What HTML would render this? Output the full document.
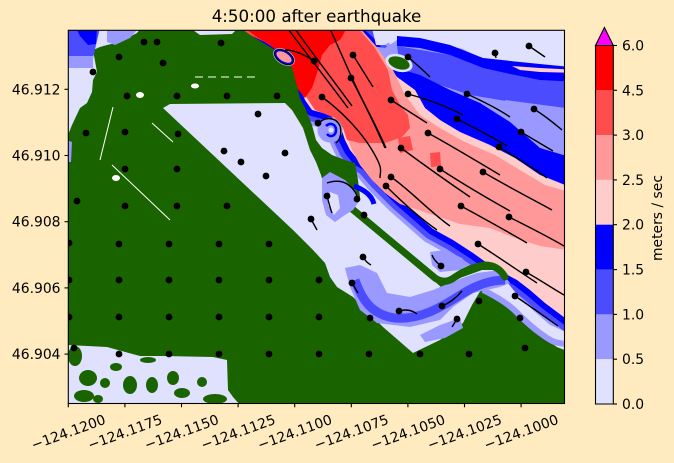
<!DOCTYPE html>
<html><head><meta charset="utf-8"><style>html,body{margin:0;padding:0;background:#ffebbf;}svg{display:block;}</style></head>
<body>
<svg width="674" height="463" xmlns="http://www.w3.org/2000/svg" font-family="'DejaVu Sans', 'Liberation Sans', sans-serif">
<rect width="674" height="463" fill="#ffebbf"/>
<defs>
<clipPath id="c"><rect x="68.3" y="30.3" width="496.2" height="373.2"/></clipPath>
<polygon id="pz" points="238,20 352,20 356,30 370,43 385,62 397,77 415,90 425,108 440,120 460,132 490,145 515,158 540,175 565,185 580,185 580,330 565,318 545,303 530,290 517,280 500,271 487,263 473,253 453,240 433,229 400,200 380,180 367,165 358,160 350,150 345,140 340,125 330,115 312,110 305,100 298,82 293,66 280,50 265,42 250,34"/>
</defs>
<g clip-path="url(#c)">
<rect x="60" y="20" width="520" height="400" fill="#e0e0ff"/>
<use href="#pz" fill="none" stroke="#9999ff" stroke-width="30" stroke-linejoin="round"/>
<use href="#pz" fill="none" stroke="#4c4cff" stroke-width="22" stroke-linejoin="round"/>
<use href="#pz" fill="none" stroke="#0000ff" stroke-width="12" stroke-linejoin="round"/>
<polygon fill="#e0e0ff" points="372,28 580,28 580,60 520,60 485,56 463,46 430,38 397,36 385,45 376,45"/>
<polygon fill="#9999ff" points="372,46 385,48 397,40 430,41 463,49 485,60 520,63 565,66 580,66 580,185 565,185 540,175 515,158 490,145 460,132 440,120 425,108 415,90 397,77 385,62"/>
<polygon fill="#4c4cff" points="397,46 450,55 483,68 520,76 580,82 580,110 530,105 500,100 470,95 440,85 415,75 400,68"/>
<polygon fill="#9999ff" points="505,100 580,110 580,155 540,145 515,125"/>
<polygon fill="#0000ff" points="390,66 420,75 450,90 480,103 510,122 540,148 580,160 580,186 565,185 540,175 515,158 490,145 460,132 440,120 425,108 415,90 397,77"/>
<polygon fill="#0000ff" points="397,36 420,38 450,45 483,58 520,62 580,68 580,82 540,80 510,74 483,68 450,55 420,48 397,46"/>
<polygon fill="#ffcccc" points="512,66 540,68 580,70 580,73 540,72 520,70"/>
<use href="#pz" fill="#ffcccc" stroke="none"/>
<polygon fill="#ff9999" points="360,28 375,45 392,68 405,95 420,115 440,128 465,142 495,155 520,170 545,185 580,195 580,252 540,246 515,238 490,228 460,224 433,215 400,204 385,193 372,180 360,165 352,150 348,140"/>
<polygon fill="#ff4c4c" points="240,28 358,28 375,48 388,70 392,90 400,105 408,115 410,128 402,137 385,143 360,143 347,140 343,128 335,118 315,110 305,95 298,80 292,66 280,52 265,42 250,35"/>
<polygon fill="#ff4c4c" points="398,138 410,136 413,150 400,153"/>
<polygon fill="#ff4c4c" points="430,153 440,152 441,166 431,167"/>
<polygon fill="#ff0000" points="245,28 347,28 340,40 330,45 322,55 318,70 312,88 305,98 297,88 292,72 285,58 270,45 255,36"/>
<polygon fill="#1a6400" points="60,410 60,135 68,135 72,125 80,108 87,103 92,92 93,80 97,72 93,50 100,47 107,45 120,42 137,33 141,28 240,28 252,36 265,44 275,50 285,60 292,67 296,82 300,98 306,110 312,125 316,140 322,148 332,155 345,160 355,163 358,180 360,197 350,193 333,192 420,265 443,283 460,270 482,263 497,266 506,277 512,300 520,317 530,328 543,337 557,347 565,350 580,350 580,410"/>
<polygon fill="#e0e0ff" points="190,28 238,28 232,34 200,35"/>
<polygon fill="#e0e0ff" points="163,108 170,104 285,103 292,110 303,128 310,150 316,162 321,175 325,190 336,198 380,235 420,268 442,288 460,278 482,270 500,270 507,282 520,298 535,312 550,325 580,338 580,350 565,350 557,347 543,337 530,328 520,317 510,305 497,297 482,288 472,305 463,323 440,340 413,353 383,327 353,297 337,287 330,277 325,263 313,250 293,230"/>
<path d="M483,290 C495,296 505,302 512,308 S525,322 540,333 S555,342 565,344" fill="none" stroke="#9999ff" stroke-width="6"/>
<polygon fill="#9999ff" points="345,268 360,265 377,273 387,293 410,297 433,290 457,280 477,273 500,270 510,283 500,287 473,293 453,307 440,320 410,327 377,323 360,310 350,287"/>
<path d="M355,280 C362,300 372,315 395,318 C420,320 440,308 462,294 C478,284 492,280 505,280" fill="none" stroke="#4c4cff" stroke-width="9"/>
<polygon fill="#9999ff" points="430,252 445,250 462,258 468,265 460,270 440,272 432,265"/>
<polygon fill="#9999ff" points="420,335 440,325 460,318 463,328 445,338 425,342"/>
<path d="M333,193 L435,278 Q445,285 455,277 Q470,267 485,265 Q498,265 505,277" fill="none" stroke="#1a6400" stroke-width="7" stroke-linecap="round"/>
<polygon fill="#9999ff" points="322,178 330,172 345,180 355,190 360,200 353,210 345,215 335,222 326,215 322,200"/>
<polygon fill="#e0e0ff" points="330,192 338,195 340,208 334,215 328,205"/>
<path d="M354,186 C365,190 372,196 374,204" fill="none" stroke="#0000ff" stroke-width="5"/>
<g transform="rotate(32 284 57)">
<ellipse cx="284" cy="57" rx="12" ry="7.5" fill="#9999ff"/>
<ellipse cx="284" cy="57" rx="10.5" ry="6" fill="#0000ff"/>
<ellipse cx="284" cy="57" rx="8.5" ry="4.3" fill="#ff9999"/>
<ellipse cx="284" cy="57" rx="10.5" ry="6" fill="none" stroke="#000" stroke-width="1.2"/>
</g>
<circle cx="330" cy="130" r="12.5" fill="#9999ff"/>
<path d="M326,126 C330,122 336,124 336,130 C336,136 330,138 327,134" fill="none" stroke="#0000ff" stroke-width="2.5"/>
<circle cx="331" cy="130" r="2.5" fill="#e0e0ff"/>
<ellipse cx="399" cy="63" rx="14" ry="8.5" fill="#e0e0ff" transform="rotate(18 399 63)"/>
<ellipse cx="399" cy="63" rx="11" ry="6" fill="#1a6400" transform="rotate(18 399 63)"/>
<polygon fill="#4c4cff" points="60,28 100,28 96,45 93,58 80,62 68,64 60,64"/>
<polygon fill="#0000ff" points="76,28 97,28 96,44 88,45 80,36"/>
<polygon fill="#9999ff" points="60,56 93,56 93,68 60,68"/>
<polygon fill="#9999ff" points="107,30 137,30 130,38 115,45 107,42"/>
<polygon fill="#9999ff" points="66,140 72,142 71,162 66,162"/>
<g stroke="#fff" stroke-width="1" fill="none">
<path d="M195,77 L260,77" stroke-dasharray="8 5"/>
<path d="M152,123 L173,142"/>
<path d="M112,165 L170,220"/>
<path d="M113,107 L100,160"/>
</g>
<g fill="#fff">
<ellipse cx="140" cy="95" rx="4" ry="3"/>
<ellipse cx="195" cy="86" rx="4" ry="2.5"/>
<ellipse cx="116" cy="178" rx="4" ry="3"/>
</g>
<polygon fill="#e0e0ff" points="60,345 68,345 107,347 140,356 163,356 213,357 227,360 228,390 233,397 240,405 60,405"/>
<g fill="#1a6400">
<ellipse cx="75" cy="356" rx="7" ry="10"/>
<ellipse cx="88" cy="378" rx="9" ry="8"/>
<ellipse cx="84" cy="396" rx="10" ry="6"/>
<ellipse cx="116" cy="367" rx="6" ry="4"/>
<ellipse cx="105" cy="383" rx="5" ry="5"/>
<ellipse cx="130" cy="385" rx="7" ry="9"/>
<ellipse cx="152" cy="385" rx="6" ry="8"/>
<ellipse cx="173" cy="378" rx="6" ry="7"/>
<ellipse cx="182" cy="393" rx="8" ry="5"/>
<ellipse cx="202" cy="382" rx="5" ry="5"/>
<ellipse cx="215" cy="399" rx="12" ry="5"/>
<ellipse cx="148" cy="360" rx="8" ry="3"/>
<ellipse cx="98" cy="399" rx="5" ry="4"/>
</g>
<g fill="none" stroke="#000" stroke-width="1.4">
<path d="M288,29 C300,45 318,68 348,108"/>
<path d="M295,29 C310,50 330,76 352,106"/>
<path d="M330,29 C340,50 352,80 365,105 S380,135 386,148"/>
<path d="M322,97 C340,110 360,130 372,150 S380,170 380,178"/>
<path d="M353,55 L373,87"/>
<path d="M351,78 C360,95 375,125 385,148"/>
<path d="M408,57 C415,63 423,70 430,77"/>
<path d="M391,100 L427,123"/>
<path d="M408,94 C430,100 450,108 463,115"/>
<path d="M467,94 C480,100 497,108 510,117"/>
<path d="M495,53 L496,58"/>
<path d="M529,46 L545,57"/>
<path d="M534,109 C545,116 555,124 562,130"/>
<path d="M457,119 C475,128 492,137 507,146"/>
<path d="M521,132 L553,151"/>
<path d="M428,133 C450,145 475,160 500,175"/>
<path d="M499,147 C515,157 532,167 547,178"/>
<path d="M401,148 C420,162 445,180 470,197"/>
<path d="M440,169 C460,182 485,197 510,211"/>
<path d="M483,172 C505,185 530,198 552,210"/>
<path d="M461,206 C483,218 505,230 527,243"/>
<path d="M509,217 C527,226 547,236 564,246"/>
<path d="M478,244 C497,256 517,270 537,283"/>
<path d="M526,272 C540,280 552,288 564,295"/>
<path d="M515,296 C530,306 545,317 558,326"/>
<path d="M391,177 C410,190 430,212 450,226"/>
<path d="M386,186 C400,200 420,218 437,230"/>
<path d="M327,196 C329,203 330,208 332,213"/>
<path d="M327,183 C335,180 345,180 352,188 S357,198 357,199"/>
<path d="M364,215 L365,219"/>
<path d="M311,219 L317,230"/>
<path d="M363,257 C366,262 369,264 371,265"/>
<path d="M352,283 L358,293"/>
<path d="M399,311 C406,309 412,310 417,314"/>
<path d="M442,306 C450,303 456,298 462,291"/>
<path d="M457,319 L452,327"/>
<path d="M441,266 C436,262 433,258 432,255"/>
<path d="M318,124 C325,116 336,117 340,126 C342,133 340,140 336,143"/>
<path d="M314,61 C305,55 295,50 285,50"/>
</g>
<g fill="#000">
<circle cx="144" cy="42" r="3.4"/><circle cx="157" cy="42" r="3.4"/><circle cx="221" cy="43" r="3.4"/><circle cx="119" cy="57" r="3.4"/><circle cx="163" cy="63" r="3.4"/><circle cx="93" cy="72" r="3.4"/>
<circle cx="127" cy="96" r="3.4"/><circle cx="177" cy="96" r="3.4"/><circle cx="227" cy="96" r="3.4"/><circle cx="277" cy="96" r="3.4"/><circle cx="258" cy="114" r="3.4"/>
<circle cx="86" cy="133" r="3.4"/><circle cx="125" cy="132" r="3.4"/><circle cx="178" cy="134" r="3.4"/><circle cx="224" cy="151" r="3.4"/><circle cx="285" cy="153" r="3.4"/><circle cx="241" cy="162" r="3.4"/><circle cx="266" cy="176" r="3.4"/>
<circle cx="125" cy="169" r="3.4"/><circle cx="177" cy="169" r="3.4"/><circle cx="77" cy="201" r="3.4"/><circle cx="125" cy="206" r="3.4"/><circle cx="177" cy="206" r="3.4"/><circle cx="227" cy="206" r="3.4"/>
<circle cx="69" cy="243" r="3.4"/><circle cx="119" cy="244" r="3.4"/><circle cx="169" cy="244" r="3.4"/><circle cx="219" cy="244" r="3.4"/><circle cx="269" cy="244" r="3.4"/>
<circle cx="69" cy="280" r="3.4"/><circle cx="119" cy="280" r="3.4"/><circle cx="169" cy="280" r="3.4"/><circle cx="219" cy="280" r="3.4"/><circle cx="269" cy="280" r="3.4"/><circle cx="319" cy="280" r="3.4"/>
<circle cx="69" cy="317" r="3.4"/><circle cx="119" cy="317" r="3.4"/><circle cx="169" cy="317" r="3.4"/><circle cx="219" cy="317" r="3.4"/><circle cx="269" cy="317" r="3.4"/><circle cx="319" cy="317" r="3.4"/>
<circle cx="74" cy="348" r="3.4"/><circle cx="119" cy="354" r="3.4"/><circle cx="169" cy="354" r="3.4"/><circle cx="219" cy="354" r="3.4"/><circle cx="269" cy="354" r="3.4"/><circle cx="319" cy="354" r="3.4"/><circle cx="369" cy="354" r="3.4"/><circle cx="420" cy="354" r="3.4"/><circle cx="469" cy="354" r="3.4"/><circle cx="525" cy="348" r="3.4"/>
<circle cx="520" cy="318" r="3.4"/><circle cx="479" cy="301" r="3.4"/><circle cx="370" cy="318" r="3.4"/>
<circle cx="314" cy="61" r="3.4"/><circle cx="322" cy="97" r="3.4"/><circle cx="318" cy="123" r="3.4"/><circle cx="353" cy="55" r="3.4"/><circle cx="351" cy="78" r="3.4"/><circle cx="408" cy="57" r="3.4"/>
<circle cx="391" cy="100" r="3.4"/><circle cx="408" cy="94" r="3.4"/><circle cx="467" cy="94" r="3.4"/><circle cx="495" cy="53" r="3.4"/><circle cx="529" cy="46" r="3.4"/><circle cx="534" cy="109" r="3.4"/>
<circle cx="457" cy="119" r="3.4"/><circle cx="521" cy="132" r="3.4"/><circle cx="428" cy="133" r="3.4"/><circle cx="499" cy="147" r="3.4"/><circle cx="401" cy="148" r="3.4"/><circle cx="440" cy="169" r="3.4"/>
<circle cx="483" cy="172" r="3.4"/><circle cx="391" cy="177" r="3.4"/><circle cx="386" cy="186" r="3.4"/><circle cx="461" cy="206" r="3.4"/><circle cx="509" cy="217" r="3.4"/><circle cx="478" cy="244" r="3.4"/>
<circle cx="526" cy="272" r="3.4"/><circle cx="515" cy="296" r="3.4"/><circle cx="357" cy="199" r="3.4"/><circle cx="364" cy="215" r="3.4"/><circle cx="327" cy="196" r="3.4"/><circle cx="311" cy="219" r="3.4"/>
<circle cx="363" cy="257" r="3.4"/><circle cx="352" cy="283" r="3.4"/><circle cx="399" cy="311" r="3.4"/><circle cx="442" cy="306" r="3.4"/><circle cx="457" cy="319" r="3.4"/><circle cx="441" cy="266" r="3.4"/>
</g>
</g>
<rect x="68.3" y="30.3" width="496.2" height="373.2" fill="none" stroke="#000" stroke-width="1.1"/>
<g stroke="#000" stroke-width="1.1">
<line x1="64.5" y1="89.3" x2="68.3" y2="89.3"/><line x1="64.5" y1="155.5" x2="68.3" y2="155.5"/><line x1="64.5" y1="221.7" x2="68.3" y2="221.7"/><line x1="64.5" y1="287.9" x2="68.3" y2="287.9"/><line x1="64.5" y1="354.1" x2="68.3" y2="354.1"/>
<line x1="68.3" y1="403.5" x2="68.3" y2="407.3"/><line x1="124.9" y1="403.5" x2="124.9" y2="407.3"/><line x1="181.5" y1="403.5" x2="181.5" y2="407.3"/><line x1="238.1" y1="403.5" x2="238.1" y2="407.3"/><line x1="294.7" y1="403.5" x2="294.7" y2="407.3"/><line x1="351.3" y1="403.5" x2="351.3" y2="407.3"/><line x1="407.9" y1="403.5" x2="407.9" y2="407.3"/><line x1="464.5" y1="403.5" x2="464.5" y2="407.3"/><line x1="521.1" y1="403.5" x2="521.1" y2="407.3"/>
</g>
<g font-size="13.9" fill="#000" text-anchor="end">
<text x="60.5" y="94.3">46.912</text><text x="60.5" y="160.5">46.910</text><text x="60.5" y="226.7">46.908</text><text x="60.5" y="292.9">46.906</text><text x="60.5" y="359.1">46.904</text>
</g>
<g font-size="13.9" fill="#000" text-anchor="middle">
<text x="68.3" y="437" transform="rotate(-20 68.3 432)">−124.1200</text>
<text x="124.9" y="437" transform="rotate(-20 124.9 432)">−124.1175</text>
<text x="181.5" y="437" transform="rotate(-20 181.5 432)">−124.1150</text>
<text x="238.1" y="437" transform="rotate(-20 238.1 432)">−124.1125</text>
<text x="294.7" y="437" transform="rotate(-20 294.7 432)">−124.1100</text>
<text x="351.3" y="437" transform="rotate(-20 351.3 432)">−124.1075</text>
<text x="407.9" y="437" transform="rotate(-20 407.9 432)">−124.1050</text>
<text x="464.5" y="437" transform="rotate(-20 464.5 432)">−124.1025</text>
<text x="521.1" y="437" transform="rotate(-20 521.1 432)">−124.1000</text>
</g>
<text x="316.5" y="22" font-size="16.7" text-anchor="middle" fill="#000">4:50:00 after earthquake</text>
<rect x="595.5" y="45.5" width="17.8" height="44.8" fill="#ff0000"/>
<rect x="595.5" y="90.3" width="17.8" height="44.8" fill="#ff4c4c"/>
<rect x="595.5" y="135.1" width="17.8" height="44.8" fill="#ff9999"/>
<rect x="595.5" y="179.9" width="17.8" height="44.8" fill="#ffcccc"/>
<rect x="595.5" y="224.7" width="17.8" height="44.9" fill="#0000ff"/>
<rect x="595.5" y="269.6" width="17.8" height="44.8" fill="#4c4cff"/>
<rect x="595.5" y="314.4" width="17.8" height="44.8" fill="#9999ff"/>
<rect x="595.5" y="359.2" width="17.8" height="44.8" fill="#e0e0ff"/>
<path d="M595.5,45.5 L604.4,27.5 L613.3,45.5 Z" fill="#ff00ff" stroke="#000" stroke-width="1.1"/>
<path d="M595.5,45.5 L595.5,404 L613.3,404 L613.3,45.5" fill="none" stroke="#000" stroke-width="1.1"/>
<g stroke="#000" stroke-width="1.1">
<line x1="613.3" y1="45.5" x2="617" y2="45.5"/><line x1="613.3" y1="90.3" x2="617" y2="90.3"/><line x1="613.3" y1="135.1" x2="617" y2="135.1"/><line x1="613.3" y1="179.9" x2="617" y2="179.9"/><line x1="613.3" y1="224.7" x2="617" y2="224.7"/><line x1="613.3" y1="269.6" x2="617" y2="269.6"/><line x1="613.3" y1="314.4" x2="617" y2="314.4"/><line x1="613.3" y1="359.2" x2="617" y2="359.2"/><line x1="613.3" y1="404" x2="617" y2="404"/>
</g>
<g font-size="13.9" fill="#000">
<text x="622" y="50.5">6.0</text><text x="622" y="95.3">4.5</text><text x="622" y="140.1">3.0</text><text x="622" y="184.9">2.5</text><text x="622" y="229.7">2.0</text><text x="622" y="274.6">1.5</text><text x="622" y="319.4">1.0</text><text x="622" y="364.2">0.5</text><text x="622" y="409">0.0</text>
</g>
<text transform="translate(662 218) rotate(-90)" font-size="13.9" text-anchor="middle" fill="#000">meters / sec</text>
</svg>
</body></html>
